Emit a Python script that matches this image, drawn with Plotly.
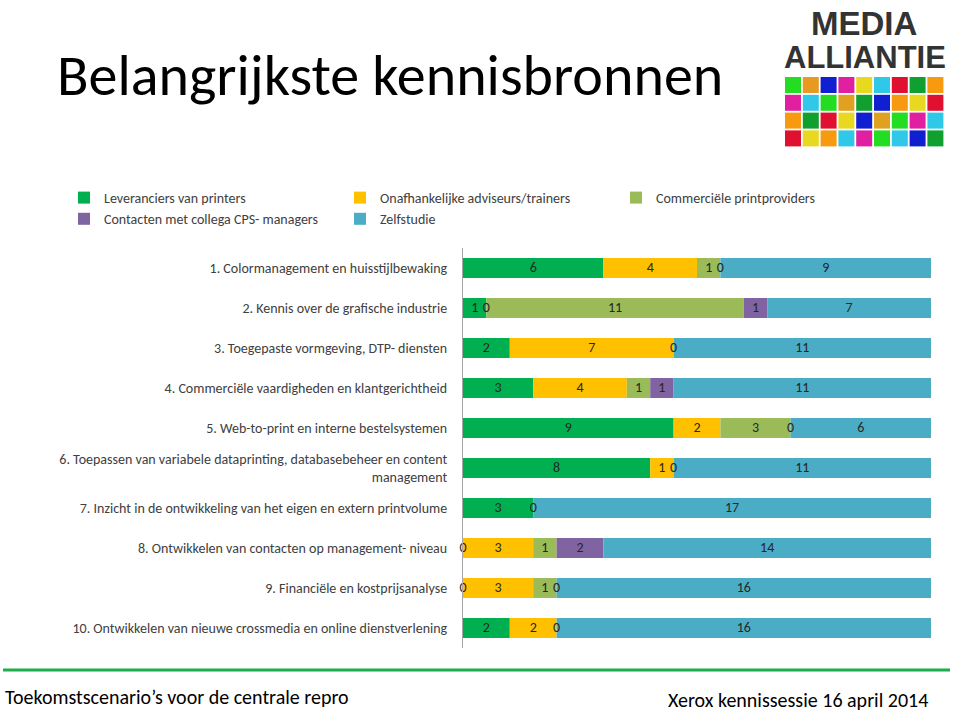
import plotly.graph_objects as go

categories = [
    "1. Colormanagement en huisstijlbewaking",
    "2. Kennis over de grafische industrie",
    "3. Toegepaste vormgeving, DTP- diensten",
    "4. Commerciële vaardigheden en klantgerichtheid",
    "5. Web-to-print en interne bestelsystemen",
    "6. Toepassen van variabele dataprinting, databasebeheer en content<br>management",
    "7. Inzicht in de ontwikkeling van het eigen en extern printvolume",
    "8. Ontwikkelen van contacten op management- niveau",
    "9. Financiële en kostprijsanalyse",
    "10. Ontwikkelen van nieuwe crossmedia en online dienstverlening",
]
series_names = [
    "Leveranciers van printers",
    "Onafhankelijke adviseurs/trainers",
    "Commerciële printproviders",
    "Contacten met collega CPS- managers",
    "Zelfstudie",
]
leveranciers = [6, 1, 2, 3, 9, 8, 3, 0, 0, 2]
onafhankelijk = [4, 0, 7, 4, 2, 1, 0, 3, 3, 2]
commercieel = [1, 11, 0, 1, 3, 0, None, 1, 1, 0]
contacten = [0, 1, None, 1, 0, None, None, 2, 0, None]
zelfstudie = [9, 7, 11, 11, 6, 11, 17, 14, 16, 16]

series_values = [leveranciers, onafhankelijk, commercieel, contacten, zelfstudie]
colors = ["#00B050", "#FFC000", "#9BBB59", "#8064A2", "#4BACC6"]

FONT = "Calibri, Lato, sans-serif"

# plot area in pixels
L, R, T, B = 463, 931, 248, 648
W, H = 960, 712


def px(x):
    return (x - L) / (R - L)


def py(y):
    return (B - y) / (B - T)


fig = go.Figure()
cum = [0.0] * len(categories)
label_x, label_y, label_t = [], [], []
for name, vals, col in zip(series_names, series_values, colors):
    v0 = [v if v is not None else 0 for v in vals]
    fig.add_trace(go.Bar(
        name=name, y=categories, x=v0, base=cum[:], orientation="h",
        marker=dict(color=col, line=dict(width=0)), hoverinfo="x+name",
    ))
    for i, v in enumerate(vals):
        if v is not None:
            label_x.append(cum[i] + v / 2)
            label_y.append(categories[i])
            label_t.append(str(v))
    cum = [c + v for c, v in zip(cum, v0)]

fig.add_trace(go.Scatter(
    x=label_x, y=label_y, text=label_t, mode="text", cliponaxis=False,
    textfont=dict(family=FONT, size=14, color="#262626"),
    showlegend=False, hoverinfo="skip",
))

shapes = []
annotations = []

# footer line
shapes.append(dict(type="line", xref="paper", yref="paper",
                   x0=px(3), x1=px(950), y0=py(670), y1=py(670),
                   line=dict(color="#1FAD4B", width=3)))

# logo grid
grid = [
    ["#22DD22", "#E89A20", "#1020D0", "#E020A0", "#E8D820", "#30C8E8", "#E01030", "#10A030", "#F89A10"],
    ["#E020A0", "#30C8E8", "#22DD22", "#E0A020", "#10A030", "#1020D0", "#F89A10", "#E8D820", "#E01030"],
    ["#F89A10", "#10A030", "#E01030", "#E8D820", "#1020D0", "#E0A020", "#22DD22", "#E020A0", "#30C8E8"],
    ["#E01030", "#E8D820", "#F89A10", "#30C8E8", "#E020A0", "#22DD22", "#30C8E8", "#1020D0", "#10A030"],
]
gx0, gy0, pitch, size = 785, 77, 17.8, 16
for r, row in enumerate(grid):
    for c, colr in enumerate(row):
        x0 = gx0 + c * pitch
        y0 = gy0 + r * pitch
        shapes.append(dict(type="rect", xref="paper", yref="paper",
                           x0=px(x0), x1=px(x0 + size), y0=py(y0 + size), y1=py(y0),
                           fillcolor=colr, line=dict(width=0), layer="above"))

LOGO_FONT = "Liberation Sans Narrow, Arial Narrow, Liberation Sans, Arial, sans-serif"
annotations.append(dict(text="<b>MEDIA</b>", xref="paper", yref="paper",
                        x=px(864), y=py(24), xanchor="center", yanchor="middle",
                        showarrow=False,
                        font=dict(family=LOGO_FONT, size=33, color="#333333")))
annotations.append(dict(text="<b>ALLIANTIE</b>", xref="paper", yref="paper",
                        x=px(865), y=py(58), xanchor="center", yanchor="middle",
                        showarrow=False,
                        font=dict(family=LOGO_FONT, size=31, color="#333333")))

# footer texts
annotations.append(dict(text="Toekomstscenario’s voor de centrale repro", xref="paper", yref="paper",
                        x=px(3), y=py(697), xanchor="left", yanchor="middle", showarrow=False,
                        font=dict(family=FONT, size=20, color="#000000")))
annotations.append(dict(text="Xerox kennissessie 16 april 2014", xref="paper", yref="paper",
                        x=px(930), y=py(700), xanchor="right", yanchor="middle", showarrow=False,
                        font=dict(family=FONT, size=20, color="#000000")))

fig.update_layout(
    width=W, height=H,
    margin=dict(l=L, r=W - R, t=T, b=H - B, autoexpand=False),
    paper_bgcolor="white", plot_bgcolor="white",
    barmode="overlay", bargap=0.5,
    title=dict(text="Belangrijkste kennisbronnen", xref="container", yref="container",
               x=57 / W, xanchor="left", y=1 - 75 / H, yanchor="middle",
               font=dict(family=FONT, size=58, color="#000000")),
    font=dict(family=FONT, size=14, color="#404040"),
    legend=dict(orientation="h", xref="paper", yref="paper",
                x=px(64), y=py(182), xanchor="left", yanchor="top",
                entrywidth=231, entrywidthmode="pixels", itemwidth=30,
                font=dict(family=FONT, size=14, color="#404040"),
                traceorder="normal"),
    xaxis=dict(range=[0, 20], visible=False, fixedrange=True),
    yaxis=dict(autorange="reversed", showline=True, linecolor="#A6A6A6", linewidth=1,
               ticks="", showgrid=False, ticklabelstandoff=12, automargin=False,
               tickfont=dict(family=FONT, size=14, color="#404040")),
    shapes=shapes, annotations=annotations,
)

fig.write_html("out.html", config={"displayModeBar": False},
               post_script="document.body.style.margin='0';")
